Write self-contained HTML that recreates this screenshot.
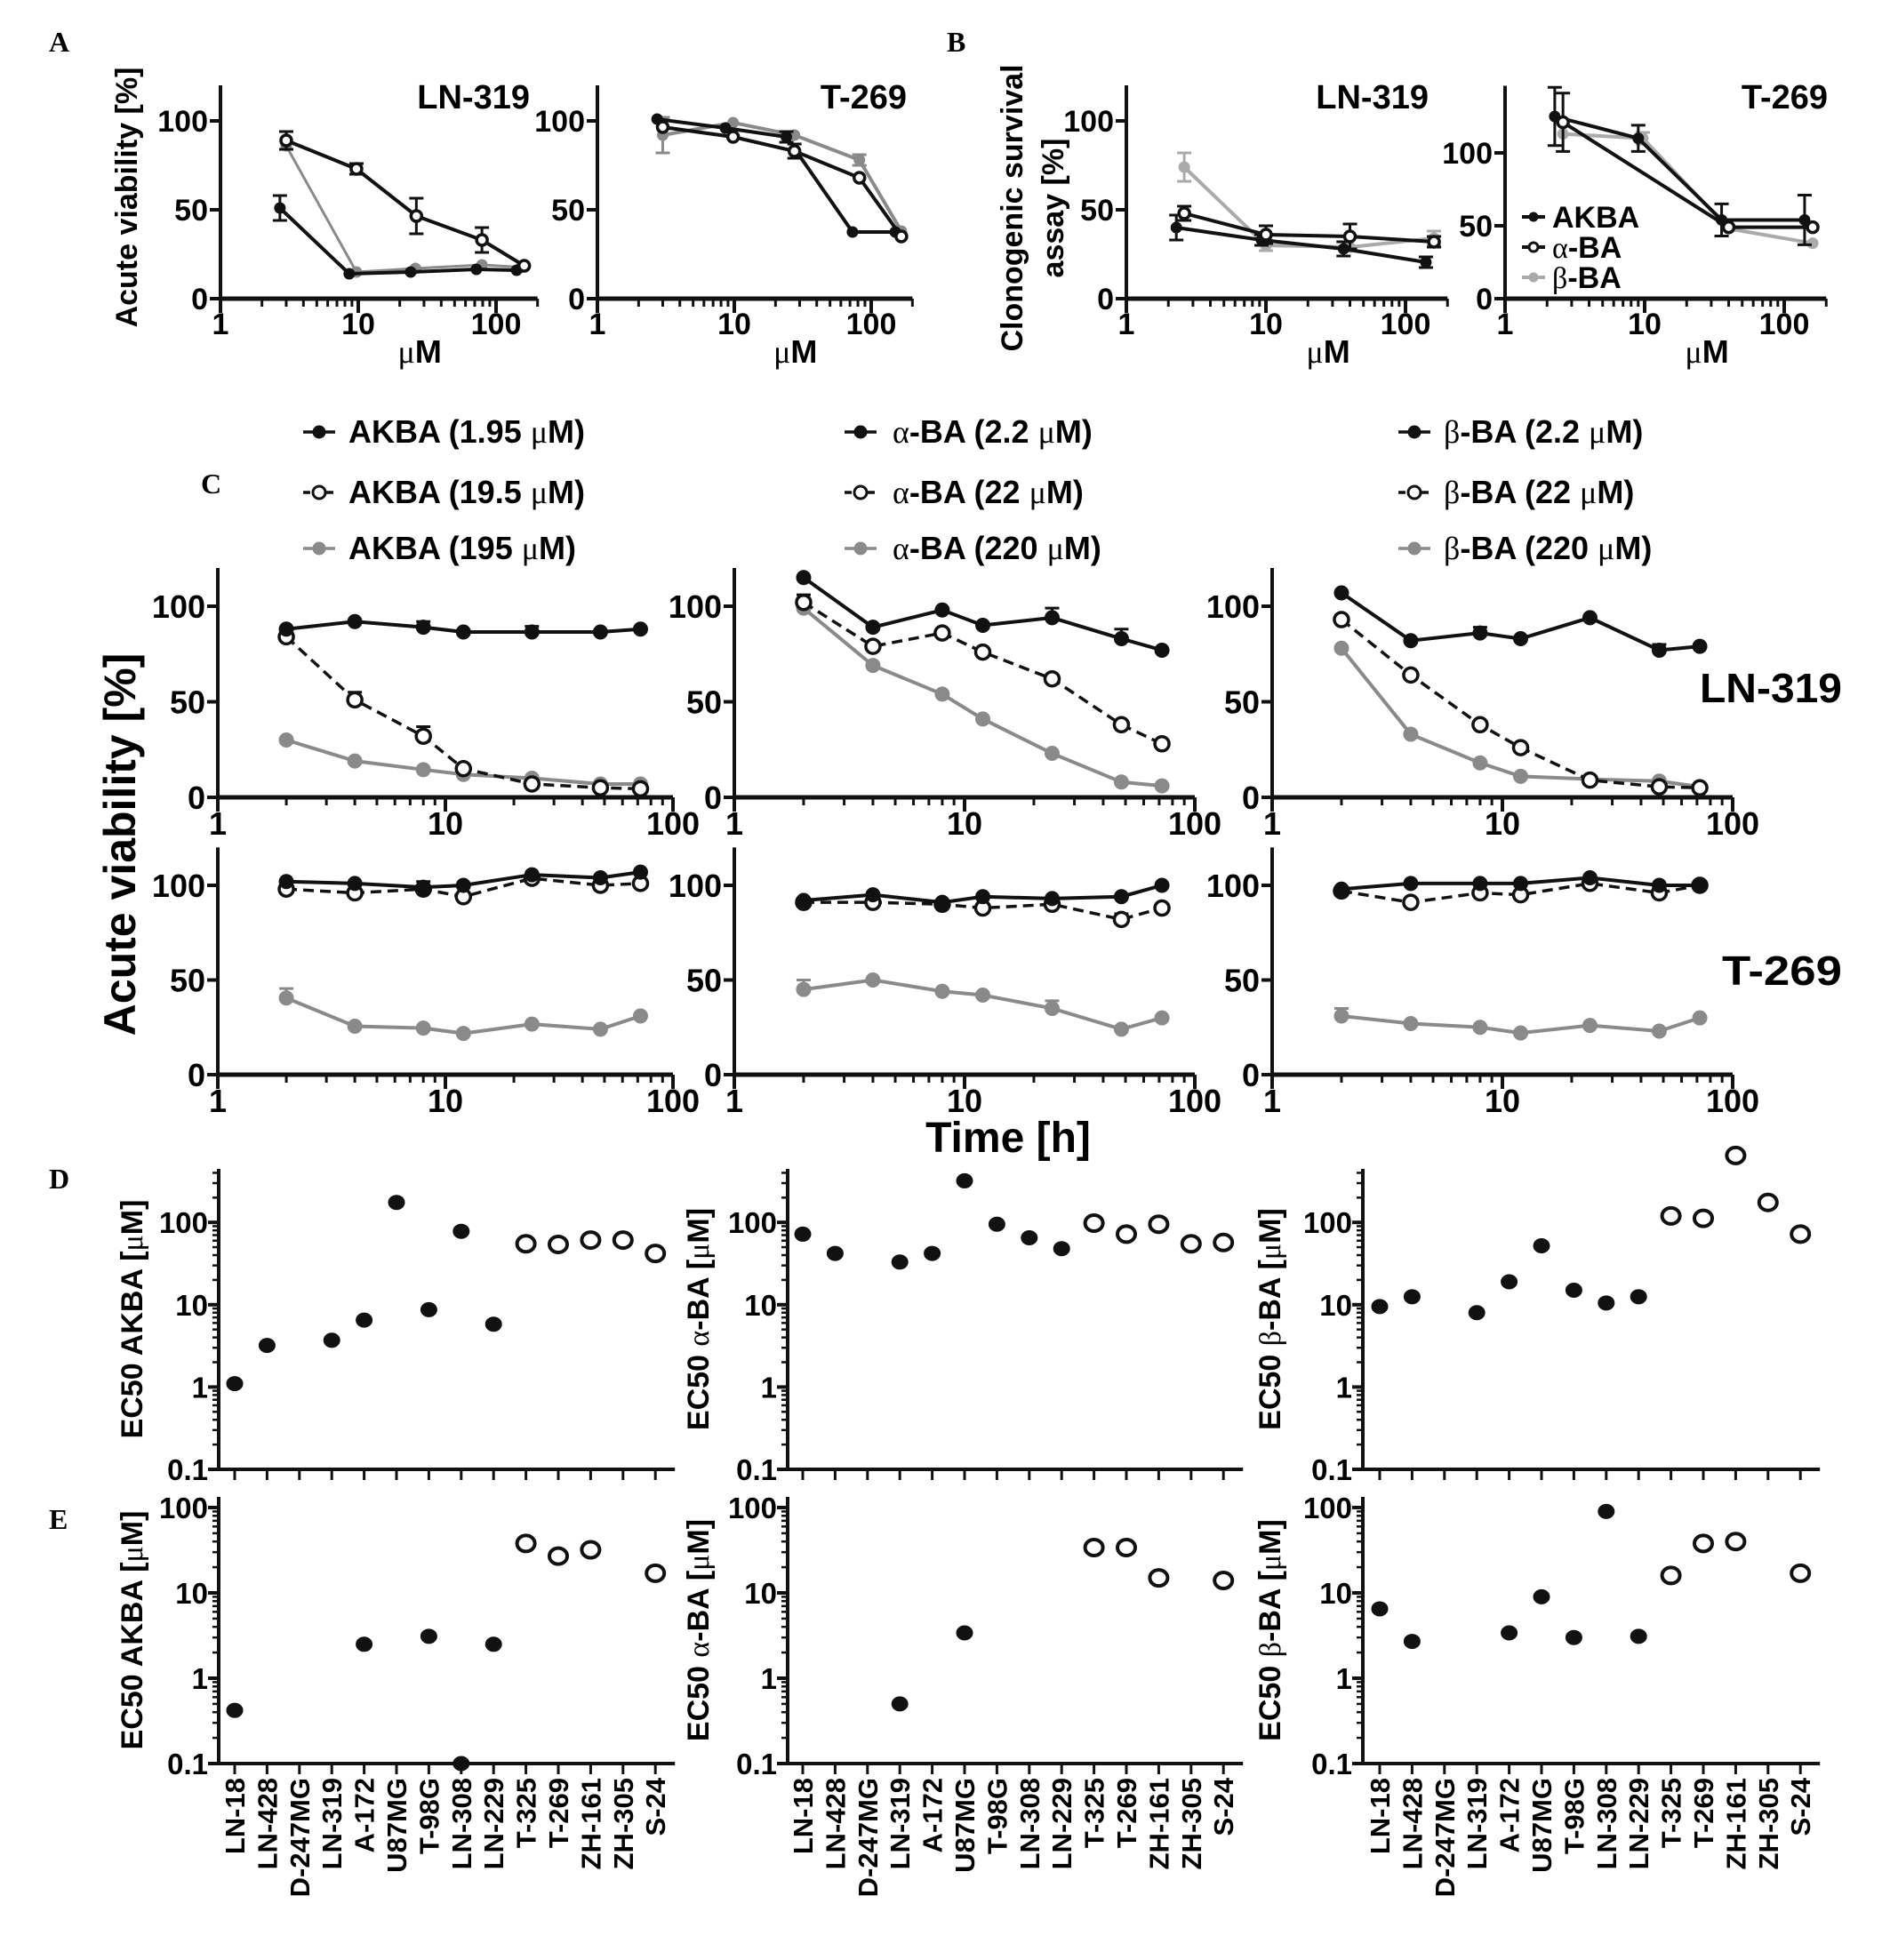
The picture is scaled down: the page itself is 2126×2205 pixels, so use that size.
<!DOCTYPE html>
<html><head><meta charset="utf-8">
<style>
html,body{margin:0;padding:0;background:#fff;}
svg{display:block;}
.tk{font-family:"Liberation Sans Narrow","Liberation Sans",sans-serif;font-weight:bold;}
.bd{font-family:"Liberation Sans",sans-serif;font-weight:bold;}
.sr{font-family:"Liberation Serif",serif;font-weight:normal;}
.lt{font-family:"Liberation Serif",serif;font-weight:bold;}
</style></head>
<body>
<svg id="fig" xmlns="http://www.w3.org/2000/svg" width="2126" height="2205" viewBox="0 0 2126 2205">
<rect x="0" y="0" width="2126" height="2205" fill="#fff"/>
<text class="lt" x="55" y="58" font-size="32">A</text>
<text class="lt" x="1065" y="58" font-size="32">B</text>
<text class="lt" x="226" y="555" font-size="32">C</text>
<text class="lt" x="55" y="1337" font-size="32">D</text>
<text class="lt" x="55" y="1720" font-size="32">E</text>
<text class="bd" font-size="34" text-anchor="middle" transform="translate(154,222) rotate(-90)">Acute viability [%]</text>
<text class="bd" font-size="34" text-anchor="middle" transform="translate(1150,234) rotate(-90)">Clonogenic survival</text>
<text class="bd" font-size="34" text-anchor="middle" transform="translate(1196,234) rotate(-90)">assay [%]</text>
<text class="bd" font-size="50" text-anchor="middle" transform="translate(152,950) rotate(-90)">Acute viability [%]</text>
<text class="tk" font-size="48" text-anchor="middle" x="1134" y="1296">Time [h]</text>
<text class="tk" font-size="46" text-anchor="end" x="2072" y="790" textLength="160" lengthAdjust="spacingAndGlyphs">LN-319</text>
<text class="tk" font-size="46" text-anchor="end" x="2072" y="1108" textLength="135" lengthAdjust="spacingAndGlyphs">T-269</text>
<g id="root"></g>
</svg>
<script>
// ---------- DATA ----------
const aLnAkbaX=[2.7,8.6,24,72,141], aLnAkbaY=[51,14,15,16.5,16], aLnAkbaE=[7,0,0,0,0];
const aLnAlphaX=[3.0,9.7,26.4,79,160], aLnAlphaY=[89,73,46.5,33,18.5], aLnAlphaE=[5,3,10,7,0];
const aLnBetaX=[3.0,9.7,26,79,152], aLnBetaY=[86,15,17,19,17.7], aLnBetaE=[0,0,0,0,0];
const aTAkbaX=[2.73,8.6,24,73,150], aTAkbaY=[101,96,91,37.5,37.5], aTAkbaE=[0,0,3,0,0];
const aTAlphaX=[3.0,9.8,27.5,82,166], aTAlphaY=[96.5,91,83,68,35], aTAlphaE=[0,0,4,0,0];
const aTBetaX=[3.0,9.8,27.5,82,166], aTBetaY=[92,99,92,78,38], aTBetaE=[10,0,0,3,0];
const bLnAkbaX=[2.28,9.3,36,140], bLnAkbaY=[40,33,28,20.5], bLnAkbaE=[7,3,4,3];
const bLnAlphaX=[2.6,10,40,160], bLnAlphaY=[48,36,35,32], bLnAlphaE=[4,5,7,3];
const bLnBetaX=[2.6,10,40,160], bLnBetaY=[74,30,29,34], bLnBetaE=[8,3,0,4];
const bTAkbaX=[2.27,9,35.6,140], bTAkbaY=[125,110,54,54], bTAkbaE=[20,9,11,17];
const bTAlphaX=[2.6,40,160], bTAlphaY=[121,49,49], bTAlphaE=[20,0,0];
const bTBetaX=[2.6,9.7,40,160], bTBetaY=[113,110,48,38], bTBetaE=[0,4,0,0];
const cTimes=[2,4,8,12,24,48,72];
const cLnAkbaLo=[88,92,89,86.5,86.5,86.5,88], cLnAkbaMid=[84,51,32,15,7,5,4.5], cLnAkbaHi=[30,19,14.5,12,10,7,7];
const cLnAlphaLo=[115,89,98,90,94,83,77], cLnAlphaMid=[102,79,86,76,62,38,28], cLnAlphaHi=[99,69,54,41,23,8,6];
const cLnBetaLo=[107,82,86,83,94,77,79], cLnBetaMid=[93,64,38,26,9,5.5,5], cLnBetaHi=[78,33,18,11,9.5,8.5,5.5];
const cTAkbaLo=[102,101,99,100,105.6,104,107], cTAkbaMid=[98,96,98,94,103.7,100,101], cTAkbaHi=[40.5,25.6,24.6,21.8,26.7,24,31];
const cTAlphaLo=[92,95,91,94,93,94,100], cTAlphaMid=[91,91,90,88,90,82,88], cTAlphaHi=[45,50,44,42,35,24,30];
const cTBetaLo=[98,101,101,101,104,100,100], cTBetaMid=[97,91,96,95,101,96,100], cTBetaHi=[31,27,25,22,26,23,30];
const cErrLnAkbaLo=[0,0,3,0,3,0,0], cErrLnAkbaMid=[0,4,5,0,0,0,0];
const cErrLnAlphaLo=[0,0,0,0,5,5,0], cErrLnAlphaMid=[4,0,0,0,0,0,0];
const cErrLnBetaLo=[0,0,3,0,0,3,0];
const cErrTAkbaLo=[0,0,3,0,0,0,0], cErrTAkbaHi=[5,0,0,0,0,0,0];
const cErrTAlphaMid=[0,0,0,0,0,3,0], cErrTAlphaHi=[5,0,0,0,4,0,0];
const cErrTBetaLo=[0,0,0,0,0,0,2], cErrTBetaHi=[4,0,0,0,0,0,0];
const cellLines=["LN-18","LN-428","D-247MG","LN-319","A-172","U87MG","T-98G","LN-308","LN-229","T-325","T-269","ZH-161","ZH-305","S-24"];
const openFrom=9;
const dAkba=[1.1,3.2,null,3.7,6.5,175,8.7,78,5.8,55,54,61,61,42];
const dAlpha=[72,42,null,33,42,320,95,65,48,98,72,95,55,57];
const dBeta=[9.5,12.5,null,8,19,52,15,10.5,12.5,120,112,650,175,72];
const eAkba=[0.42,null,null,null,2.5,null,3.1,0.1,2.5,38,27,32,null,17];
const eAlpha=[null,null,null,0.5,null,3.4,null,null,null,34,34,15,null,14];
const eBeta=[6.5,2.7,null,null,3.4,9,3.0,90,3.1,16,38,40,null,17];
const linTicks=[0,50,100];
const logTickLabels=["1","10","100"];
const ecTickVals=[0.1,1,10,100];
const ecTickLabels=["0.1","1","10","100"];

// ---------- DRAWING ----------
const NS="http://www.w3.org/2000/svg";
const root=document.getElementById('root');
function mk(tag,attrs,parent){const e=document.createElementNS(NS,tag);for(const k in attrs)e.setAttribute(k,attrs[k]);(parent||root).appendChild(e);return e;}
const BLACK="#111", GRAY="#8a8a8a", LGRAY="#aaaaaa";

function logLinPanel(cfg){
  const g=mk('g',{});
  
  
  const X=v=>cfg.ax+Math.log10(v)*cfg.dec;
  const Y=v=>cfg.y0-v*cfg.ppu;
  const xEnd=X(cfg.xmax), yTop=Y(cfg.ymax);
  const yax=mk('line',{x1:cfg.ax,y1:yTop,x2:cfg.ax,y2:cfg.y0+2,stroke:BLACK,'stroke-width':4},g);
  
  
  const xax=mk('line',{x1:cfg.ax-2,y1:cfg.y0,x2:xEnd,y2:cfg.y0,stroke:BLACK,'stroke-width':5},g);
  
  
  for(let d=0;d<3;d++){for(let m=1;m<10;m++){const v=Math.pow(10,d)*m;if(v>cfg.xmax*1.001)continue;
    const t=mk('line',{x1:X(v),y1:cfg.y0,x2:X(v),y2:cfg.y0+(m===1?16:9),stroke:BLACK,'stroke-width':m===1?4:3},g);
    
    }}
  logTickLabels.forEach((s,i)=>{const t=mk('text',{x:X(Math.pow(10,i)),y:cfg.y0+cfg.lblDy,'text-anchor':'middle','font-size':cfg.fs,class:'tk'},g);t.textContent=s;
    
    });
  linTicks.forEach(v=>{const tl=mk('line',{x1:cfg.ax-12,y1:Y(v),x2:cfg.ax,y2:Y(v),stroke:BLACK,'stroke-width':4},g);
    
    
    const t=mk('text',{x:cfg.ax-14,y:Y(v)+cfg.fs*0.36,'text-anchor':'end','font-size':cfg.fs,class:'tk'},g);t.textContent=v;
    
    });
  if(cfg.title){const t=mk('text',{x:cfg.titleX,y:cfg.titleY,'text-anchor':'end','font-size':38,class:'tk'},g);t.textContent=cfg.title;
    
    }
  if(cfg.unit){const t=mk('text',{x:X(Math.sqrt(cfg.xmax*10)/1.6),y:cfg.y0+72,'text-anchor':'middle','font-size':36,class:'tk'},g);
    t.innerHTML='<tspan class="sr">\u03bc</tspan>M';
    
    }
  return {g,X,Y};
}
function series(p,xs,ys,errs,o){
  const sg=mk('g',{},p.g);
  
  
  if(errs){xs.forEach((x,i)=>{if(!errs[i])return;const cx=p.X(x);const top=p.Y(ys[i]+errs[i]);const bot=o.upOnly?p.Y(ys[i]):p.Y(ys[i]-errs[i]);
    const eb=mk('path',{d:`M${cx},${bot}L${cx},${top}M${cx-8},${top}L${cx+8},${top}`+(o.upOnly?'':`M${cx-8},${bot}L${cx+8},${bot}`),stroke:o.color,'stroke-width':3,fill:'none'},sg);
    
    });}
  const d=xs.map((x,i)=>(i?'L':'M')+p.X(x)+','+p.Y(ys[i])).join('');
  const ln=mk('path',{d:d,stroke:o.color,'stroke-width':o.sw||4,fill:'none','stroke-dasharray':o.dash||'none'},sg);
  
  
  xs.forEach((x,i)=>{const c=mk('circle',{cx:p.X(x),cy:p.Y(ys[i]),r:o.r,fill:o.open?'#fff':o.color,stroke:o.color,'stroke-width':o.open?3.5:1},sg);
    
    });
}

const pA1=logLinPanel({name:'panel-a-ln319',ax:248,dec:155,y0:336,ppu:2.0,ymax:120,xmax:200,fs:34,lblDy:40,title:'LN-319',titleX:596,titleY:122,unit:true});
series(pA1,aLnBetaX,aLnBetaY,aLnBetaE,{name:'a-ln319-beta-ba',color:GRAY,r:6,sw:3});
series(pA1,aLnAkbaX,aLnAkbaY,aLnAkbaE,{name:'a-ln319-akba',color:BLACK,r:6});
series(pA1,aLnAlphaX,aLnAlphaY,aLnAlphaE,{name:'a-ln319-alpha-ba',color:BLACK,r:6,open:true});
const pA2=logLinPanel({name:'panel-a-t269',ax:672,dec:154,y0:336,ppu:2.0,ymax:120,xmax:200,fs:34,lblDy:40,title:'T-269',titleX:1020,titleY:122,unit:true});
series(pA2,aTBetaX,aTBetaY,aTBetaE,{name:'a-t269-beta-ba',color:GRAY,r:6});
series(pA2,aTAkbaX,aTAkbaY,aTAkbaE,{name:'a-t269-akba',color:BLACK,r:6});
series(pA2,aTAlphaX,aTAlphaY,aTAlphaE,{name:'a-t269-alpha-ba',color:BLACK,r:6,open:true});
const pB1=logLinPanel({name:'panel-b-ln319',ax:1267,dec:157,y0:336,ppu:2.0,ymax:120,xmax:200,fs:34,lblDy:40,title:'LN-319',titleX:1607,titleY:122,unit:true});
series(pB1,bLnBetaX,bLnBetaY,bLnBetaE,{name:'b-ln319-beta-ba',color:LGRAY,r:6});
series(pB1,bLnAkbaX,bLnAkbaY,bLnAkbaE,{name:'b-ln319-akba',color:BLACK,r:6});
series(pB1,bLnAlphaX,bLnAlphaY,bLnAlphaE,{name:'b-ln319-alpha-ba',color:BLACK,r:6,open:true});
const pB2=logLinPanel({name:'panel-b-t269',ax:1693,dec:157,y0:336,ppu:1.64,ymax:146,xmax:200,fs:34,lblDy:40,title:'T-269',titleX:2056,titleY:122,unit:true});
series(pB2,bTBetaX,bTBetaY,bTBetaE,{name:'b-t269-beta-ba',color:LGRAY,r:6});
series(pB2,bTAkbaX,bTAkbaY,bTAkbaE,{name:'b-t269-akba',color:BLACK,r:6});
series(pB2,bTAlphaX,bTAlphaY,bTAlphaE,{name:'b-t269-alpha-ba',color:BLACK,r:6,open:true});
const bLeg=[["AKBA",BLACK,false,''],["\u03b1","#111",true,'-BA'],["\u03b2",LGRAY,false,'-BA']];
bLeg.forEach((e,i)=>{const y=244+i*34;const lg=mk('g',{});
  
  
  mk('line',{x1:1712,y1:y,x2:1738,y2:y,stroke:e[1],'stroke-width':4},lg);
  mk('circle',{cx:1725,cy:y,r:5,fill:e[2]?'#fff':e[1],stroke:e[1],'stroke-width':e[2]?3:1},lg);
  const t=mk('text',{x:1746,y:y+12,'font-size':34,class:'tk'},lg);
  t.innerHTML=i===0?'AKBA':'<tspan class="sr">'+e[0]+'</tspan>-BA';});

const cCols=[{ax:245,dec:256,key:'akba'},{ax:826,dec:259,key:'alpha'},{ax:1431,dec:259,key:'beta'}];
const cRows=[{y0:897,ppu:2.15,key:'ln319'},{y0:1209,ppu:2.13,key:'t269'}];
const cData={
 ln319:{akba:[cLnAkbaLo,cLnAkbaMid,cLnAkbaHi],alpha:[cLnAlphaLo,cLnAlphaMid,cLnAlphaHi],beta:[cLnBetaLo,cLnBetaMid,cLnBetaHi]},
 t269:{akba:[cTAkbaLo,cTAkbaMid,cTAkbaHi],alpha:[cTAlphaLo,cTAlphaMid,cTAlphaHi],beta:[cTBetaLo,cTBetaMid,cTBetaHi]}};
const cErr={
 ln319:{akba:[cErrLnAkbaLo,cErrLnAkbaMid,null],alpha:[cErrLnAlphaLo,cErrLnAlphaMid,null],beta:[cErrLnBetaLo,null,null]},
 t269:{akba:[cErrTAkbaLo,null,cErrTAkbaHi],alpha:[null,cErrTAlphaMid,cErrTAlphaHi],beta:[cErrTBetaLo,null,cErrTBetaHi]}};
cRows.forEach(r=>{cCols.forEach(c=>{
  const p=logLinPanel({name:'panel-c-'+r.key+'-'+c.key,ax:c.ax,dec:c.dec,y0:r.y0,ppu:r.ppu,ymax:120,xmax:100,fs:36,lblDy:42});
  const s=cData[r.key][c.key], e=cErr[r.key][c.key];
  series(p,cTimes,s[2],e[2],{name:'c-'+r.key+'-'+c.key+'-high',color:GRAY,r:8,upOnly:true});
  series(p,cTimes,s[1],e[1],{name:'c-'+r.key+'-'+c.key+'-mid',color:BLACK,r:8,open:true,dash:'12,7',sw:3.5,upOnly:true});
  series(p,cTimes,s[0],e[0],{name:'c-'+r.key+'-'+c.key+'-low',color:BLACK,r:8,upOnly:true});
});});
const cLegX=[{m:359,t:392,name:'AKBA',g:'',c:['1.95','19.5','195']},{m:968,t:1004,name:'-BA',g:'\u03b1',c:['2.2','22','220']},{m:1591,t:1624,name:'-BA',g:'\u03b2',c:['2.2','22','220']}];
const cLegY=[486,554,617];
cLegX.forEach(col=>{col.c.forEach((conc,i)=>{const y=cLegY[i];const lg=mk('g',{});
  
  
  const col2=i===2?GRAY:BLACK;
  mk('line',{x1:col.m-18,y1:y,x2:col.m+18,y2:y,stroke:col2,'stroke-width':3.5,'stroke-dasharray':i===1?'8,5':'none'},lg);
  mk('circle',{cx:col.m,cy:y,r:7,fill:i===1?'#fff':col2,stroke:col2,'stroke-width':i===1?3:1},lg);
  const t=mk('text',{x:col.t,y:y+12,'font-size':36,class:'tk'},lg);
  t.innerHTML=(col.g?'<tspan class="sr">'+col.g+'</tspan>':'')+col.name+' ('+conc+' <tspan class="sr">\u03bc</tspan>M)';});});

function ecPanel(cfg,vals){
  const g=mk('g',{});
  
  
  const X=i=>cfg.ax+cfg.off+i*36.4;
  const Y=v=>cfg.y0-(Math.log10(v)+1)*cfg.dec;
  const xEnd=X(cellLines.length-1)+22;
  const ya=mk('line',{x1:cfg.ax,y1:cfg.top,x2:cfg.ax,y2:cfg.y0+2,stroke:BLACK,'stroke-width':4},g);
  
  
  const xa=mk('line',{x1:cfg.ax-2,y1:cfg.y0,x2:xEnd,y2:cfg.y0,stroke:BLACK,'stroke-width':4},g);
  
  
  for(let d=-1;d<3;d++){for(let m=1;m<10;m++){const v=Math.pow(10,d)*m;const yy=Y(v);if(yy<cfg.top)continue;
    const t=mk('line',{x1:cfg.ax-(m===1?12:7),y1:yy,x2:cfg.ax,y2:yy,stroke:BLACK,'stroke-width':m===1?4:2.5},g);
    
    }}
  ecTickVals.forEach((v,i)=>{const t=mk('text',{x:cfg.ax-12,y:Y(v)+12,'text-anchor':'end','font-size':33,class:'bd'},g);t.textContent=ecTickLabels[i];
    
    });
  cellLines.forEach((c,i)=>{const t=mk('line',{x1:X(i),y1:cfg.y0,x2:X(i),y2:cfg.y0+12,stroke:BLACK,'stroke-width':3},g);
    
    
    if(cfg.labels){const l=mk('text',{'text-anchor':'end','font-size':31,class:'bd',transform:`translate(${X(i)+11},${cfg.y0+16}) rotate(-90)`},g);l.textContent=c;
      
      }});
  vals.forEach((v,i)=>{if(v===null)return;const open=i>=openFrom;
    const c=mk('ellipse',{cx:X(i),cy:Y(v),rx:open?10:9,ry:open?9:8,fill:open?'#fff':BLACK,stroke:BLACK,'stroke-width':open?4:1},g);
    
    });
  const tt=mk('text',{'text-anchor':'middle','font-size':34,class:'bd',transform:`translate(${cfg.tx},${(cfg.top+cfg.y0)/2}) rotate(-90)`},g);
  tt.innerHTML='EC50 '+(cfg.g?'<tspan class="sr">'+cfg.g+'</tspan>-BA':'AKBA')+' [<tspan class="sr">\u03bc</tspan>M]';
  
  
}
const dCols=[{ax:246,off:18,tx:160,g:'',k:'akba'},{ax:886,off:17,tx:797,g:'\u03b1',k:'alpha'},{ax:1533,off:19,tx:1440,g:'\u03b2',k:'beta'}];
const dVals=[dAkba,dAlpha,dBeta], eVals=[eAkba,eAlpha,eBeta];
dCols.forEach((c,i)=>{
  ecPanel({name:'panel-d-'+c.k,ax:c.ax,off:c.off,tx:c.tx,g:c.g,y0:1653,dec:92.6,top:1315,labels:false},dVals[i]);
  ecPanel({name:'panel-e-'+c.k,ax:c.ax,off:c.off,tx:c.tx,g:c.g,y0:1984,dec:96,top:1684,labels:true},eVals[i]);
});
</script>
</body></html>
